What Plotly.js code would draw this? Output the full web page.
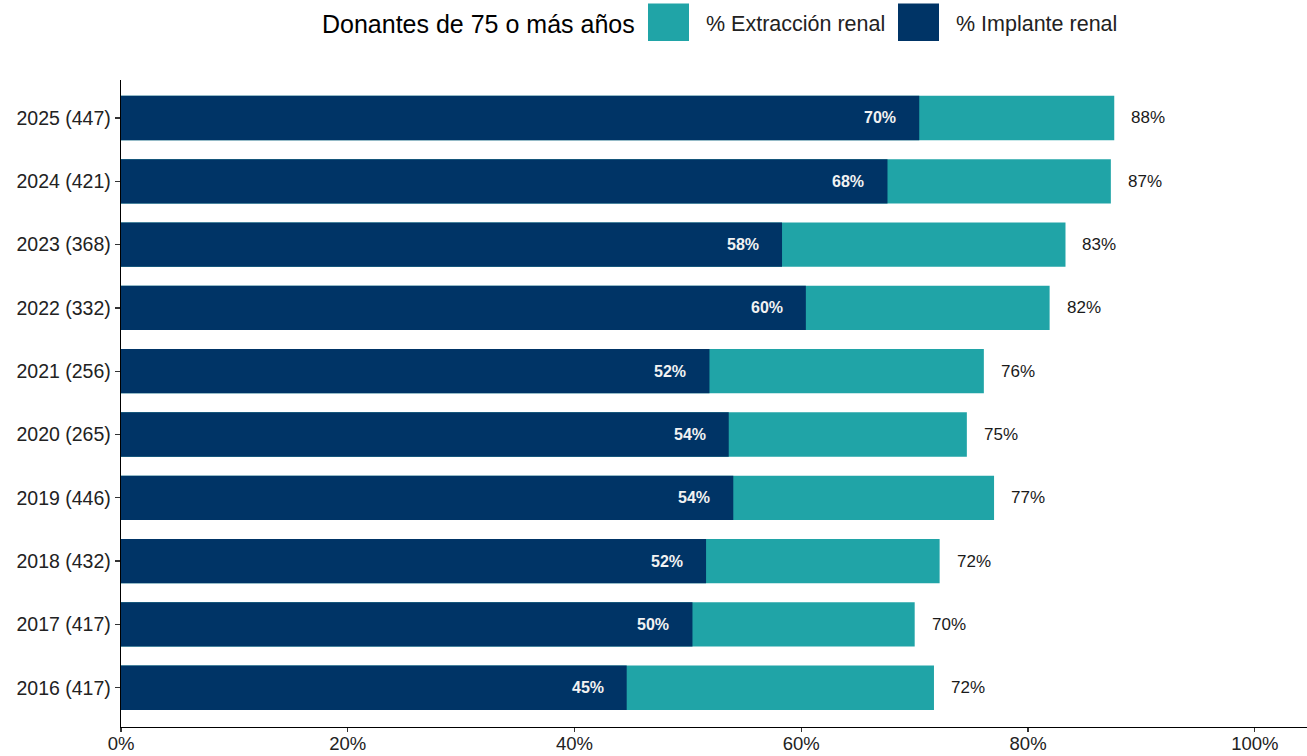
<!DOCTYPE html>
<html>
<head>
<meta charset="utf-8">
<script src="https://cdn.plot.ly/plotly-3.0.1.min.js"></script>
<style>html,body{margin:0;padding:0;background:#fff;}#chart{width:1307px;height:756px;}</style>
</head>
<body>
<div id="chart"></div>
<script>
// Data (bottom to top)
const categories = ["2016 (417)","2017 (417)","2018 (432)","2019 (446)","2020 (265)","2021 (256)","2022 (332)","2023 (368)","2024 (421)","2025 (447)"];
const extraccion = [71.7, 70.0, 72.2, 77.0, 74.6, 76.1, 81.9, 83.3, 87.3, 87.6];
const implante   = [44.6, 50.4, 51.6, 54.0, 53.6, 51.9, 60.4, 58.3, 67.6, 70.4];
const seriesNames = ["% Extracción renal", "% Implante renal"];
const legendTitle = "Donantes de 75 o más años";
const xTicks = [0, 20, 40, 60, 80, 100];
const xTickLabels = ["0%","20%","40%","60%","80%","100%"];

const TEAL = "#20a4a7";
const NAVY = "#003466";
const FONT = "Liberation Sans, Arial, sans-serif";

const W = 1307, H = 756;
const M = {l: 121, r: 0, t: 80, b: 29};
const PW = W - M.l - M.r, PH = H - M.t - M.b;
const px2x = p => (p - M.l) / PW;
const px2y = p => (H - M.b - p) / PH;

const traces = [
  {
    type: "bar", orientation: "h", name: seriesNames[0],
    y: categories, x: extraccion, marker: {color: TEAL}, width: 0.7,
    hoverinfo: "skip"
  },
  {
    type: "bar", orientation: "h", name: seriesNames[1],
    y: categories, x: implante, marker: {color: NAVY}, width: 0.7,
    hoverinfo: "skip"
  }
];

const annotations = [];
categories.forEach((c, i) => {
  annotations.push({
    x: extraccion[i], y: c, xref: "x", yref: "y",
    text: Math.round(extraccion[i]) + "%", showarrow: false,
    xanchor: "left", xshift: 15,
    font: {family: FONT, size: 17, color: "#1a1a1a"}
  });
  annotations.push({
    x: implante[i], y: c, xref: "x", yref: "y",
    text: "<b>" + Math.round(implante[i]) + "%</b>", showarrow: false,
    xanchor: "right", xshift: -21,
    font: {family: FONT, size: 16, color: "#f2f2f2"}
  });
});

// Manual legend (large key squares as in the reference)
annotations.push({
  x: px2x(320), y: px2y(24), xref: "paper", yref: "paper",
  xanchor: "left", yanchor: "middle", showarrow: false,
  text: legendTitle, font: {family: FONT, size: 25, color: "#000"}
});
const keyX = [648, 898];
const keyText = [704, 954];
const keyColors = [TEAL, NAVY];
const shapes = [];
keyX.forEach((kx, i) => {
  shapes.push({
    type: "rect", xref: "paper", yref: "paper",
    x0: px2x(kx), x1: px2x(kx + 41), y0: px2y(41), y1: px2y(3.5),
    fillcolor: keyColors[i], line: {width: 0}
  });
  annotations.push({
    x: px2x(keyText[i]), y: px2y(24), xref: "paper", yref: "paper",
    xanchor: "left", yanchor: "middle", showarrow: false,
    text: seriesNames[i], font: {family: FONT, size: 21.5, color: "#222"}
  });
});

const layout = {
  width: W, height: H,
  margin: M,
  paper_bgcolor: "#fff", plot_bgcolor: "#fff",
  barmode: "overlay",
  font: {family: FONT, color: "#222"},
  showlegend: false,
  xaxis: {
    range: [0, 104.6], tickvals: xTicks, ticktext: xTickLabels,
    showgrid: false, zeroline: false,
    showline: true, linecolor: "#000", linewidth: 1.3,
    ticks: "outside", ticklen: 4, tickcolor: "#333", tickwidth: 1.3,
    ticklabelstandoff: -5,
    tickfont: {family: FONT, size: 18.5, color: "#222"},
    automargin: false, fixedrange: true
  },
  yaxis: {
    type: "category", categoryorder: "array", categoryarray: categories,
    range: [-0.62, 9.6],
    showgrid: false, zeroline: false,
    showline: true, linecolor: "#000", linewidth: 1.3,
    ticks: "outside", ticklen: 5, tickcolor: "#333", tickwidth: 1.3,
    tickfont: {family: FONT, size: 19.5, color: "#222"},
    automargin: false, fixedrange: true
  },
  shapes: shapes,
  annotations: annotations
};

Plotly.newPlot("chart", traces, layout, {displayModeBar: false, staticPlot: true});
</script>
</body>
</html>
